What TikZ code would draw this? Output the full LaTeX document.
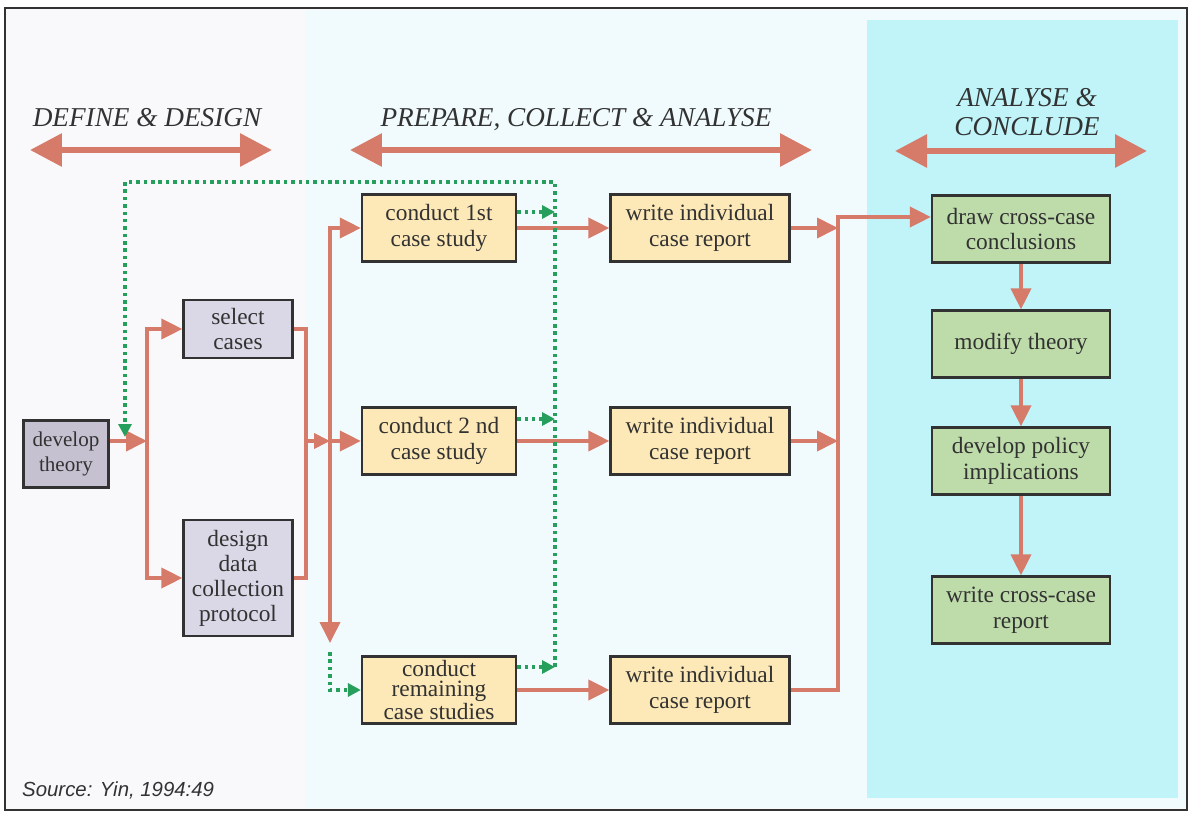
\documentclass[tikz,border=0pt]{standalone}
\usepackage{fontspec}
\setmainfont{Liberation Serif}
\setsansfont{Liberation Sans}
\usepackage{tikz}
\usetikzlibrary{arrows.meta}
\definecolor{salmon}{RGB}{214,122,106}
\definecolor{fbgreen}{RGB}{38,158,92}
\definecolor{lilac}{RGB}{218,215,230}
\definecolor{lilacdark}{RGB}{198,193,208}
\definecolor{sand}{RGB}{253,233,183}
\definecolor{sage}{RGB}{190,219,170}
\definecolor{leftwhite}{RGB}{249,249,251}
\definecolor{paleblue}{RGB}{241,251,253}
\definecolor{panelblue}{RGB}{192,244,249}
\definecolor{inkgray}{RGB}{50,50,50}

\begin{document}
\begin{tikzpicture}[x=0.02cm,y=-0.02cm,font=\fontsize{13.3}{14.7}\selectfont]
\tikzset{box/.style=
	{draw=inkgray,line width=1.3pt,text=inkgray,align=center,inner sep=0pt},
	phase/.style=
	{text=inkgray,align=center,font=\fontsize{15.5}{16.4}\selectfont\itshape},
	span/.style=
	{draw=salmon,line width=3.5pt,{Triangle[length=0.64cm,width=0.64cm]}-{Triangle[length=0.64cm,width=0.64cm]}},
	link/.style=
	{draw=salmon,line width=2.2pt},
	conn/.style=
	{link,-{Triangle[length=0.42cm,width=0.4cm]}},
	feedback/.style=
	{draw=fbgreen,line width=2.2pt,dash pattern=on 2pt off 2.2pt,-{Triangle[length=0.26cm,width=0.26cm]}}}
\useasboundingbox (0,0) rectangle (1191,814);
\fill[white] (0,0) rectangle (1191,814);
\fill[leftwhite] (5,8) rectangle (1187,810);
\fill[paleblue] (305,10) rectangle (1185,808);
\fill[panelblue] (867,20) rectangle (1178,798);
\draw[inkgray,line width=1.2pt] (5,8) rectangle (1187,810);

\node[phase] (define) at (147,118) {DEFINE \& DESIGN};
\node[phase] (prepare) at (576,120) {PREPARE, COLLECT \& ANALYSE};
\node[phase] (analyse) at (1027,112) {ANALYSE \&\\CONCLUDE};
\coordinate (d1) at (30,150); \coordinate (d2) at (272,150);
\coordinate (p1) at (350,150); \coordinate (p2) at (812,150);
\coordinate (a1) at (895,151); \coordinate (a2) at (1147,151);
\draw[span] (d1) -- (d2);
\draw[span] (p1) -- (p2);
\draw[span] (a1) -- (a2);

\node[box,fill=lilacdark,minimum width=1.7cm,minimum height=1.34cm,font=\fontsize{12}{14.7}\selectfont] (theory) at (66,454) {develop\\theory};
\node[box,fill=lilac,minimum width=2.18cm,minimum height=1.16cm] (select) at (238,329) {select\\cases};
\node[box,fill=lilac,minimum width=2.18cm,minimum height=2.32cm,font=\fontsize{13.3}{14.2}\selectfont] (design) at (238,578) {design\\data\\collection\\protocol};

\node[box,fill=sand,minimum width=3.08cm,minimum height=1.34cm] (cs1) at (439,228) {conduct 1st\\case study};
\node[box,fill=sand,minimum width=3.08cm,minimum height=1.34cm] (cs2) at (439,441) {conduct 2 nd\\case study};
\node[box,fill=sand,minimum width=3.08cm,minimum height=1.34cm,font=\fontsize{13.3}{11.9}\selectfont] (cs3) at (439,690) {conduct\\remaining\\case studies};

\node[box,fill=sand,minimum width=3.58cm,minimum height=1.34cm] (rep1) at (700,228) {write individual\\case report};
\node[box,fill=sand,minimum width=3.58cm,minimum height=1.34cm] (rep2) at (700,441) {write individual\\case report};
\node[box,fill=sand,minimum width=3.58cm,minimum height=1.34cm] (rep3) at (700,690) {write individual\\case report};

\node[box,fill=sage,minimum width=3.56cm,minimum height=1.34cm] (conclude) at (1021,229) {draw cross-case\\conclusions};
\node[box,fill=sage,minimum width=3.56cm,minimum height=1.34cm] (modify) at (1021,344) {modify theory};
\node[box,fill=sage,minimum width=3.56cm,minimum height=1.34cm] (policy) at (1021,461) {develop policy\\implications};
\node[box,fill=sage,minimum width=3.56cm,minimum height=1.34cm] (xreport) at (1021,610) {write cross-case\\report};

\node[anchor=west,text=inkgray,font=\sffamily\itshape\fontsize{11.6}{13}\selectfont] (source) at (16,790) {Source: Yin, 1994:49};

\coordinate (busA) at (147,441);
\coordinate (busB) at (306,441);
\coordinate (busC) at (330,441);
\coordinate (busD) at (330,643);
\coordinate (fbA) at (330,652);
\coordinate (colT) at (838,217);
\coordinate (fbR) at (555,182);
\coordinate (fbL) at (125,182);
\coordinate (fbE) at (125,437);

\draw[conn] (theory.east |- busA) -- (busA);
\draw[conn] (busA) |- (select.west);
\draw[conn] (busA) |- (design.west);
\draw[link] (select.east) -| (busB);
\draw[link] (design.east) -| (busB);
\draw[conn,-{Triangle[length=0.32cm,width=0.3cm]}] (busB) -- (busC);
\draw[conn] (busC) |- (cs1.west);
\draw[conn] (busC) -- (cs2.west);
\draw[conn] (busC) -- (busD);
\draw[feedback] (fbA) |- (cs3.west);

\draw[conn] (cs1.east) -- (rep1.west);
\draw[conn] (cs2.east) -- (rep2.west);
\draw[conn] (cs3.east) -- (rep3.west);
\draw[conn] (rep1.east) -- (rep1.east -| colT);
\draw[conn] (rep2.east) -- (rep2.east -| colT);
\draw[conn] (rep3.east) -| (colT) -- (conclude.west |- colT);

\draw[conn] (conclude.south) -- (modify.north);
\draw[conn] (modify.south) -- (policy.north);
\draw[conn] (policy.south) -- (xreport.north);

\draw[feedback] ([yshift=0.32cm]cs1.east) -- ([yshift=0.32cm]cs1.east -| fbR);
\draw[feedback] ([yshift=0.44cm]cs2.east) -- ([yshift=0.44cm]cs2.east -| fbR);
\draw[feedback] ([yshift=0.46cm]cs3.east) -- ([yshift=0.46cm]cs3.east -| fbR);
\draw[feedback] ([yshift=0.46cm]cs3.east -| fbR) -- (fbR) -- (fbL) -- (fbE);
\end{tikzpicture}
\end{document}
